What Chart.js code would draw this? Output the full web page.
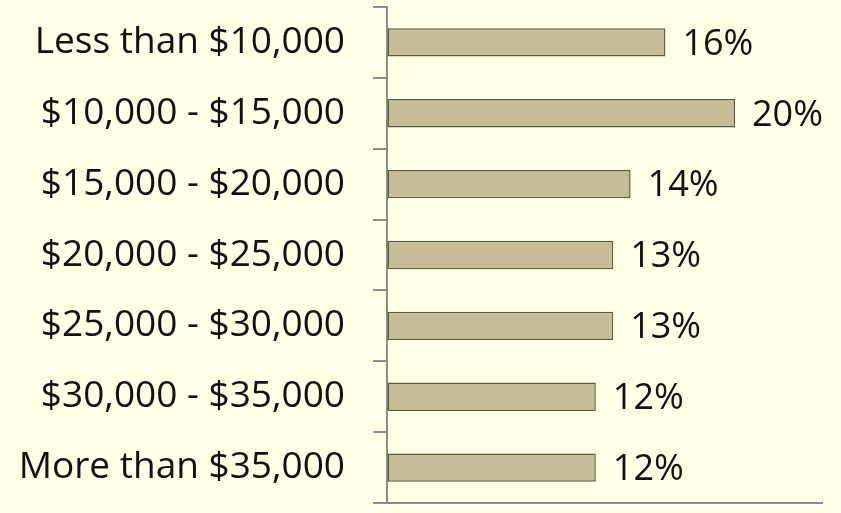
<!DOCTYPE html>
<html>
<head>
<meta charset="utf-8">
<script src="https://cdn.jsdelivr.net/npm/chart.js@4"></script>
<style>
html,body{margin:0;padding:0;background:#ffffe5;}
#wrap{width:841px;height:513px;}
</style>
</head>
<body>
<div id="wrap"><canvas id="incomeChart" width="841" height="513"></canvas></div>
<script>
const labels = ["Less than $10,000","$10,000 - $15,000","$15,000 - $20,000","$20,000 - $25,000","$25,000 - $30,000","$30,000 - $35,000","More than $35,000"];
const shares = [16,20,14,13,13,12,12];

const FONT = "Open Sans";

// percent labels at the end of each bar
const barLabels = {
id:"barLabels",
afterDatasetsDraw(chart){
const ctx = chart.ctx;
const meta = chart.getDatasetMeta(0);
ctx.save();
ctx.font = "36px '" + FONT + "'";
ctx.fillStyle = "#111";
ctx.textBaseline = "middle";
meta.data.forEach((bar,i) => {
ctx.fillText(shares[i] + "%", bar.x + 17, bar.y + 2);
});
ctx.restore();
}
};

new Chart(document.getElementById("incomeChart"),{
type:"bar",
data:{
labels:labels,
datasets:[{
data:shares,
backgroundColor:"#c4bd97",
borderColor:"#5d5b40",
borderWidth:1.5,
borderSkipped:false,
barPercentage:0.8,
categoryPercentage:0.5
}]
},
options:{
indexAxis:"y",
responsive:false,
animation:false,
layout:{padding:{top:7,right:19,left:0,bottom:0}},
plugins:{legend:{display:false},tooltip:{enabled:false}},
scales:{
x:{
min:0,max:25,
ticks:{display:false},
grid:{display:true,drawOnChartArea:false,drawTicks:false},
border:{color:"#8c8c8c",width:2},
afterFit(s){ s.height = 10; s.paddingLeft = 0; s.paddingRight = 0; }
},
y:{
ticks:{font:{family:FONT,size:37},color:"#111",padding:28},
grid:{drawOnChartArea:false,tickLength:14,color:"#8c8c8c",lineWidth:2,offset:true},
border:{color:"#8c8c8c",width:2},
afterFit(s){ s.width = 387; s.paddingTop = 0; s.paddingBottom = 0; }
}
}
},
plugins:[barLabels]
});
</script>
</body>
</html>
